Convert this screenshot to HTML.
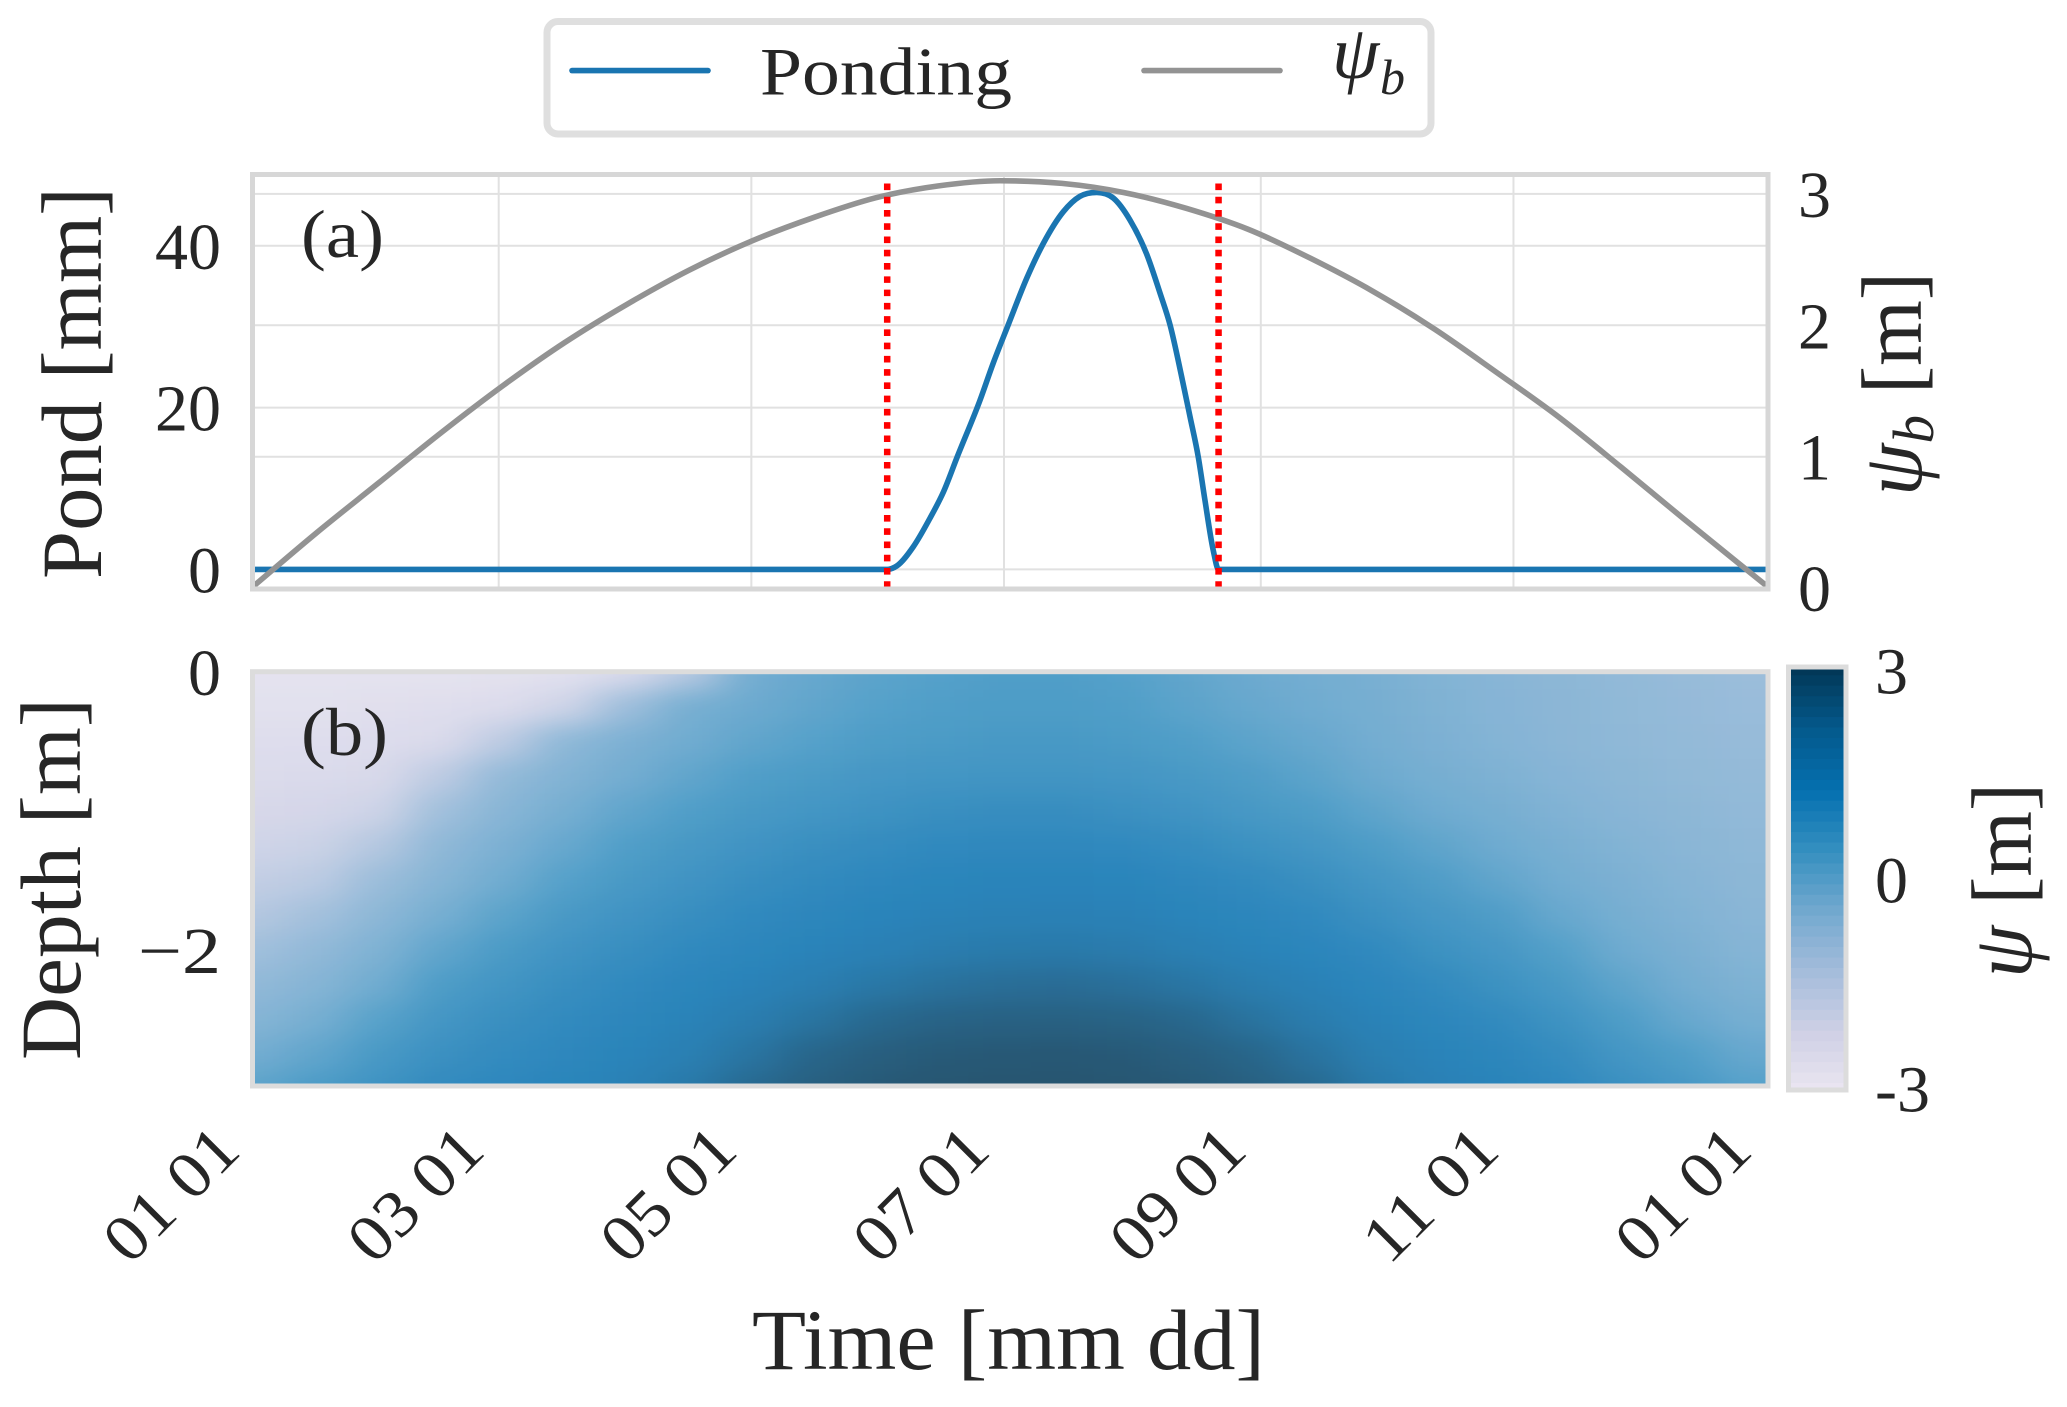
<!DOCTYPE html>
<html lang="en">
<head>
<meta charset="utf-8">
<title>Ponding and pressure head</title>
<style>
html,body{margin:0;padding:0;background:#fff;}
svg{display:block;}
text{font-family:"Liberation Serif","DejaVu Serif",serif;fill:#262626;}
</style>
</head>
<body>
<svg id="chart" xmlns="http://www.w3.org/2000/svg" width="2067" height="1407" viewBox="0 0 2067 1407">
  <defs>
    <clipPath id="clip-a"><rect x="254" y="176" width="1512" height="411"/></clipPath>
    <clipPath id="clip-b"><rect x="254" y="673" width="1512" height="411"/></clipPath>
    <filter id="heat-smooth" x="-10%" y="-30%" width="120%" height="160%" color-interpolation-filters="sRGB">
      <feGaussianBlur stdDeviation="22 12"/>
    </filter>
  </defs>

  <g id="grid-a"></g>
  <g clip-path="url(#clip-a)">
    <path id="pond-line" fill="none" stroke="#1a75b1" stroke-width="5.6"/>
    <path id="psib-line" fill="none" stroke="#939393" stroke-width="5.6"/>
  </g>
  <g id="events"></g>
  <rect x="252.5" y="174.5" width="1515.5" height="414.5" fill="none" stroke="#d7d7d7" stroke-width="5"/>

  <g clip-path="url(#clip-b)">
    <g id="heat" filter="url(#heat-smooth)" opacity="0.85"></g>
  </g>
  <rect x="252.5" y="671.7" width="1515.5" height="414.3" fill="none" stroke="#dcdcdc" stroke-width="5"/>

  <g id="colorbar"></g>
  <rect x="1788.5" y="667" width="57.5" height="423" fill="none" stroke="#dcdcdc" stroke-width="5"/>

  <g id="tick-labels"></g>

  <g>
    <rect x="547" y="21.5" width="884" height="112.5" rx="11" ry="11" fill="#fff" stroke="#dfdfdf" stroke-width="7"/>
    <line x1="572" y1="70.6" x2="708" y2="70.6" stroke="#1a75b1" stroke-width="5.6" stroke-linecap="round"/>
    <text x="760" y="94.7" font-size="68" textLength="252" lengthAdjust="spacingAndGlyphs">Ponding</text>
    <line x1="1144" y1="70.6" x2="1280" y2="70.6" stroke="#939393" stroke-width="5.6" stroke-linecap="round"/>
    <text x="1332" y="78" font-size="76" font-style="italic">ψ</text>
    <text x="1380" y="94" font-size="50" font-style="italic">b</text>
  </g>

  <text x="301" y="257" font-size="68" textLength="83" lengthAdjust="spacingAndGlyphs">(a)</text>
  <text x="301" y="755" font-size="68" textLength="87" lengthAdjust="spacingAndGlyphs">(b)</text>

  <text transform="translate(101,579) rotate(-90)" font-size="86" textLength="392" lengthAdjust="spacingAndGlyphs">Pond [mm]</text>
  <text transform="translate(1921,496) rotate(-90)" font-size="86" textLength="224" lengthAdjust="spacingAndGlyphs"><tspan font-style="italic">ψ</tspan><tspan font-style="italic" font-size="58" dy="12">b</tspan><tspan dy="-12"> [m]</tspan></text>
  <text transform="translate(80,1060) rotate(-90)" font-size="86" textLength="362" lengthAdjust="spacingAndGlyphs">Depth [m]</text>
  <text transform="translate(2031,978) rotate(-90)" font-size="86" textLength="195" lengthAdjust="spacingAndGlyphs"><tspan font-style="italic">ψ</tspan> [m]</text>
  <text x="752" y="1369" font-size="86" textLength="513" lengthAdjust="spacingAndGlyphs">Time [mm dd]</text>
</svg>

<script>
// ---- chart data ----
const pondDays = [0,152.8,155.1,159.1,163.1,166.4,169.7,175.2,178.4,182,186.5,190.5,195.3,199.3,203.4,207.4,211.4,215.5,218.7,221.1,223.9,225.9,227.9,229.5,231.5,232.8,365];
const pondValues = [0,0,0.42,2.8,6.3,9.6,13.9,20.9,25.5,30.2,36,40.3,44.2,46.1,46.6,45.9,43.2,38.9,34.1,30.2,23.8,18.9,13.9,8.6,2.4,0,0];
const psiBDays = [0,15,30,45,60,75,90,105,120,135,150,165,180,195,210,225,240,255,270,285,300,315,330,345,365];
const psiBValues = [0.02,0.42,0.80,1.18,1.54,1.87,2.16,2.42,2.64,2.82,2.97,3.06,3.10,3.08,3.01,2.89,2.73,2.51,2.26,1.97,1.64,1.30,0.92,0.53,0.02];
const eventDays = [152.8,232.8];
const timeTickDays = [0,59,120,181,243,304,365];
const timeTickLabels = ['01 01','03 01','05 01','07 01','09 01','11 01','01 01'];
const pondTicks = [0,20,40];
const psiBTicks = [0,1,2,3];
const depthTicks = [0,-2];
const depthTickLabels = ['0','−2'];
const colorbarTicks = [3,0,-3];
const colorbarLevels = [-3,-2.85,-2.7,-2.55,-2.4,-2.25,-2.1,-1.95,-1.8,-1.65,-1.5,-1.35,-1.2,-1.05,-0.9,-0.75,-0.6,-0.45,-0.3,-0.15,0,0.15,0.3,0.45,0.6,0.75,0.9,1.05,1.2,1.35,1.5,1.65,1.8,1.95,2.1,2.25,2.4,2.55,2.7,2.85,3];
const heatDays = [0,15,30,45,60,75,90,105,120,135,150,165,180,195,210,225,240,255,270,285,300,315,330,345,360];
const heatDepths = [0,-0.25,-0.5,-0.75,-1,-1.25,-1.5,-1.75,-2,-2.25,-2.5,-2.75,-3];
const heatRow00 = [-2.75,-2.75,-2.75,-2.75,-2.7,-2.65,-2.35,-1.5,-0.15,0.06,0.25,0.35,0.45,0.45,0.35,0.16,-0.04,-0.15,-0.24,-0.39,-0.49,-0.58,-0.68,-0.78,-0.88];
const heatRow01 = [-2.65,-2.65,-2.6,-2.55,-2.45,-2.05,-0.9,-0.2,-0.04,0.16,0.35,0.45,0.5,0.5,0.45,0.25,0.06,-0.1,-0.2,-0.34,-0.46,-0.55,-0.65,-0.75,-0.83];
const heatRow02 = [-2.5,-2.5,-2.45,-2.35,-1.6,-0.6,-0.29,-0.1,0.16,0.35,0.5,0.56,0.61,0.61,0.56,0.45,0.25,0.06,-0.15,-0.29,-0.42,-0.54,-0.63,-0.71,-0.78];
const heatRow03 = [-2.4,-2.35,-2.3,-1.6,-0.7,-0.39,-0.15,0.16,0.45,0.56,0.67,0.72,0.74,0.74,0.7,0.61,0.48,0.25,-0.04,-0.2,-0.32,-0.46,-0.56,-0.66,-0.73];
const heatRow04 = [-2.25,-2.2,-2,-1,-0.49,-0.2,0.16,0.45,0.61,0.72,0.83,0.92,0.97,0.97,0.89,0.78,0.63,0.5,0.2,-0.07,-0.2,-0.36,-0.49,-0.59,-0.68];
const heatRow05 = [-2.05,-1.95,-1.4,-0.63,-0.29,0.06,0.45,0.63,0.78,0.92,1.03,1.11,1.14,1.14,1.11,1,0.86,0.7,0.5,0.2,-0.07,-0.24,-0.39,-0.52,-0.63];
const heatRow06 = [-1.75,-1.57,-0.88,-0.44,-0.1,0.35,0.61,0.78,0.95,1.08,1.17,1.24,1.28,1.28,1.26,1.17,1.08,0.92,0.7,0.48,0.16,-0.13,-0.29,-0.44,-0.58];
const heatRow07 = [-1.4,-1.05,-0.58,-0.2,0.25,0.59,0.78,0.95,1.11,1.19,1.28,1.37,1.42,1.44,1.4,1.3,1.2,1.11,0.89,0.67,0.48,0.06,-0.2,-0.36,-0.52];
const heatRow08 = [-1,-0.68,-0.34,0.16,0.56,0.78,0.95,1.11,1.2,1.32,1.44,1.6,1.72,1.76,1.68,1.5,1.35,1.22,1.11,0.86,0.67,0.39,-0.07,-0.26,-0.44];
const heatRow09 = [-0.68,-0.44,-0.1,0.5,0.74,0.95,1.11,1.22,1.36,1.56,1.85,2.12,2.25,2.3,2.2,1.95,1.62,1.4,1.22,1.08,0.86,0.61,0.2,-0.15,-0.34];
const heatRow10 = [-0.44,-0.2,0.31,0.7,0.92,1.08,1.19,1.35,1.6,2.02,2.4,2.58,2.64,2.65,2.6,2.45,2.1,1.65,1.38,1.2,1.08,0.83,0.5,0.06,-0.2];
const heatRow11 = [-0.15,0.16,0.61,0.89,1.06,1.17,1.3,1.5,2,2.5,2.72,2.85,2.9,2.92,2.87,2.72,2.52,2.08,1.55,1.32,1.2,1.03,0.7,0.45,0.06];
const heatRow12 = [0.25,0.56,0.83,1.08,1.17,1.27,1.42,1.8,2.4,2.7,2.88,2.98,3,3,2.98,2.88,2.7,2.42,1.8,1.44,1.32,1.17,0.92,0.67,0.35];
const heatRows = [heatRow00,heatRow01,heatRow02,heatRow03,heatRow04,heatRow05,heatRow06,heatRow07,heatRow08,heatRow09,heatRow10,heatRow11,heatRow12];

// ---- axis functions ----
const xDay = d => 254.3 + 4.142 * d;
const yPond = p => 569.4 - 8.09 * p;
const yPsiB = v => 588.1 - 131.4 * v;
const yDepth = z => 672 - 139 * z;
const yColorbar = v => 878.5 - 69.7 * v;

// ---- colour scale (truncated PuBu, psi -3..3) ----
const puBuStops = [[255,247,251],[236,231,242],[208,209,230],[166,189,219],[116,169,207],[54,144,192],[5,112,176],[4,90,141],[2,56,88]];
function psiColor(v){
  const t = Math.max(0, Math.min(1, (v + 3) / 6));
  const f = (0.14 + 0.86 * t) * (puBuStops.length - 1);
  const i = Math.min(puBuStops.length - 2, Math.floor(f));
  const k = f - i;
  const c = puBuStops[i].map((a, n) => Math.round(a + (puBuStops[i + 1][n] - a) * k));
  return 'rgb(' + c.join(',') + ')';
}

const NS = 'http://www.w3.org/2000/svg';
function make(tag, parent, attrs){
  const el = document.createElementNS(NS, tag);
  for (const key in attrs) el.setAttribute(key, attrs[key]);
  parent.appendChild(el);
  return el;
}
// smooth curve through the data points, limited so it cannot overshoot at sharp corners
function curvePath(xs, ys){
  const n = xs.length;
  const sec = [];
  const dx = [];
  for (let i = 0; i < n - 1; i++) {
    dx.push(xs[i + 1] - xs[i]);
    sec.push((ys[i + 1] - ys[i]) / dx[i]);
  }
  const m = [sec[0]];
  for (let i = 1; i < n - 1; i++) {
    if (sec[i - 1] * sec[i] <= 0) {
      m.push(0);
    } else {
      const mean = (sec[i - 1] * dx[i] + sec[i] * dx[i - 1]) / (dx[i] + dx[i - 1]);
      const limit = 3 * Math.min(Math.abs(sec[i - 1]), Math.abs(sec[i]));
      m.push(Math.sign(mean) * Math.min(Math.abs(mean), limit));
    }
  }
  m.push(sec[n - 2]);
  let d = 'M' + xs[0].toFixed(2) + ' ' + ys[0].toFixed(2);
  for (let i = 0; i < n - 1; i++) {
    const h = dx[i] / 3;
    d += 'C' + (xs[i] + h).toFixed(2) + ' ' + (ys[i] + m[i] * h).toFixed(2) + ' ' +
         (xs[i + 1] - h).toFixed(2) + ' ' + (ys[i + 1] - m[i + 1] * h).toFixed(2) + ' ' +
         xs[i + 1].toFixed(2) + ' ' + ys[i + 1].toFixed(2);
  }
  return d;
}

// ---- grid ----
const gridA = document.getElementById('grid-a');
timeTickDays.slice(1, -1).forEach(d => {
  const el = make('line', gridA, {x1: xDay(d), x2: xDay(d), y1: 176, y2: 587, stroke: '#e1e1e1', 'stroke-width': 2});
  
  
});
pondTicks.forEach(p => {
  const el = make('line', gridA, {x1: 254, x2: 1766, y1: yPond(p), y2: yPond(p), stroke: '#e1e1e1', 'stroke-width': 2});
  
  
});
psiBTicks.slice(1).forEach(v => {
  const el = make('line', gridA, {x1: 254, x2: 1766, y1: yPsiB(v), y2: yPsiB(v), stroke: '#e1e1e1', 'stroke-width': 2});
  
  
});

// ---- lines ----
document.getElementById('pond-line').setAttribute('d', curvePath(pondDays.map(xDay), pondValues.map(yPond)));
document.getElementById('psib-line').setAttribute('d', curvePath(psiBDays.map(xDay), psiBValues.map(yPsiB)));

const events = document.getElementById('events');
eventDays.forEach(d => {
  const el = make('line', events, {x1: xDay(d), x2: xDay(d), y1: 183.5, y2: 587, stroke: '#ff0000', 'stroke-width': 6.5, 'stroke-dasharray': '6.6 6.66'});
  
  
});

// ---- heatmap ----
const heat = document.getElementById('heat');
const dayStep = heatDays[1] - heatDays[0];
const depthStep = heatDepths[0] - heatDepths[1];
heatRows.forEach((row, r) => {
  row.forEach((value, c) => {
    const day = heatDays[c];
    const depth = heatDepths[r];
    const x0 = c === 0 ? xDay(day) - 120 : xDay(day - dayStep / 2);
    const x1 = c === row.length - 1 ? xDay(day) + 140 : xDay(day + dayStep / 2);
    const y0 = r === 0 ? yDepth(depth) - 60 : yDepth(depth + depthStep / 2);
    const y1 = r === heatRows.length - 1 ? yDepth(depth) + 60 : yDepth(depth - depthStep / 2);
    const el = make('rect', heat, {x: x0, y: y0, width: x1 - x0 + 1, height: y1 - y0 + 1, fill: psiColor(value)});
    
    
  });
});

// ---- colorbar ----
const colorbar = document.getElementById('colorbar');
colorbarLevels.forEach((v, i) => {
  const half = (colorbarLevels[1] - colorbarLevels[0]) / 2;
  const top = yColorbar(Math.min(3, v + half));
  const bottom = yColorbar(Math.max(-3, v - half));
  const el = make('rect', colorbar, {x: 1790, y: top, width: 54, height: bottom - top + 0.6, fill: psiColor(v)});
  
  
});

// ---- tick labels ----
const labels = document.getElementById('tick-labels');
pondTicks.forEach(p => {
  const el = make('text', labels, {x: 221, y: yPond(p) + 23, 'font-size': 66, 'text-anchor': 'end'});
  el.textContent = String(p);
  
  
});
psiBTicks.forEach(v => {
  const el = make('text', labels, {x: 1798, y: yPsiB(v) + 23, 'font-size': 66});
  el.textContent = String(v);
  
  
});
depthTicks.forEach((z, i) => {
  const el = make('text', labels, {x: 221, y: yDepth(z) + 23, 'font-size': 66, 'text-anchor': 'end'});
  if (depthTickLabels[i].length > 1) {
    el.setAttribute('textLength', 83);
    el.setAttribute('lengthAdjust', 'spacingAndGlyphs');
  }
  el.textContent = depthTickLabels[i];
  
  
});
colorbarTicks.forEach(v => {
  const el = make('text', labels, {x: 1875, y: yColorbar(v) + 24, 'font-size': 66});
  el.textContent = String(v);
  
  
});
timeTickDays.forEach((d, i) => {
  const px = xDay(d) - 11.5;
  const el = make('text', labels, {transform: 'translate(' + px + ',1153) rotate(-45)', 'font-size': 66, 'text-anchor': 'end', textLength: 160, lengthAdjust: 'spacingAndGlyphs'});
  el.textContent = timeTickLabels[i];
  
  
});
</script>
</body>
</html>
